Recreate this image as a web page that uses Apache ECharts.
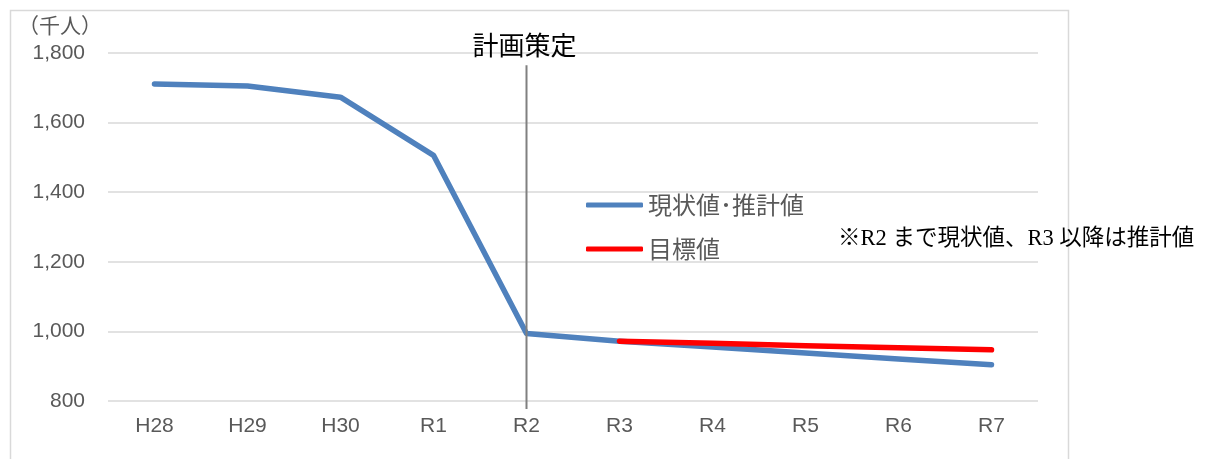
<!DOCTYPE html>
<html>
<head>
<meta charset="utf-8">
<script src="https://cdn.jsdelivr.net/npm/echarts@6/dist/echarts.min.js"></script>
<style>
  html, body { margin: 0; padding: 0; background: #fff; }
  #chart { width: 1214px; height: 459px; }
</style>
</head>
<body>
<div id="chart"></div>
<script>
// Fiscal years (Heisei / Reiwa)
const years = ['H28', 'H29', 'H30', 'R1', 'R2', 'R3', 'R4', 'R5', 'R6', 'R7'];
// Actual values up to R2, projections afterwards (thousand people)
const actualAndProjected = [1711, 1705, 1673, 1506, 994, 972, 955, 938, 921, 904];
// Target values from R3
const targetValues = [null, null, null, null, null, 972, 966, 959, 953, 947];
const yTicks = { min: 800, max: 1800, step: 200 };
// Year the plan was drawn up, and the value range its marker line spans
const planYear = 'R2';
const planMarker = [[planYear, 1765, 800]];

const chart = echarts.init(document.getElementById('chart'), null, { renderer: 'canvas' });

const sans = '"Liberation Sans", "Noto Sans CJK JP", sans-serif';
const cjk = '"Noto Sans CJK JP", sans-serif';

chart.setOption({
  animation: false,
  backgroundColor: '#fff',
  grid: { left: 108, right: 176, top: 53, bottom: 58 },
  xAxis: {
    type: 'category',
    data: years,
    boundaryGap: true,
    axisLine: { show: false },
    axisTick: { show: false },
    axisLabel: { color: '#595959', fontSize: 21, fontFamily: sans, margin: 15 }
  },
  yAxis: {
    type: 'value',
    min: yTicks.min,
    max: yTicks.max,
    interval: yTicks.step,
    axisLine: { show: false },
    axisTick: { show: false },
    axisLabel: {
      color: '#595959', fontSize: 21, fontFamily: sans, margin: 23,
      formatter: v => v.toLocaleString('en-US')
    },
    splitLine: { lineStyle: { color: '#d9d9d9', width: 1.5 } }
  },
  legend: {
    orient: 'vertical',
    left: 586,
    top: 193,
    padding: 0,
    itemWidth: 57,
    itemHeight: 5,
    itemGap: 20,
    icon: 'roundRect',
    textStyle: { color: '#595959', fontSize: 24, lineHeight: 23, fontFamily: cjk },
    data: ['現状値･推計値', '目標値']
  },
  series: [
    {
      name: '現状値･推計値',
      type: 'line',
      data: actualAndProjected,
      symbol: 'none',
      lineStyle: { color: '#4f81bd', width: 5.5, cap: 'round', join: 'round' },
      itemStyle: { color: '#4f81bd' },
      z: 2
    },
    {
      name: '目標値',
      type: 'line',
      data: targetValues,
      symbol: 'none',
      connectNulls: false,
      lineStyle: { color: '#ff0000', width: 5.5, cap: 'round', join: 'round' },
      itemStyle: { color: '#ff0000' },
      z: 3
    },
    {
      // Vertical marker for the year the plan was drawn up
      name: '計画策定',
      type: 'custom',
      clip: false,
      silent: true,
      z: 4,
      data: planMarker,
      renderItem: function (params, api) {
        const top = api.coord([api.value(0), api.value(1)]);
        const bottom = api.coord([api.value(0), api.value(2)]);
        return {
          type: 'group',
          children: [
            {
              type: 'line',
              shape: { x1: top[0], y1: top[1], x2: bottom[0], y2: bottom[1] + 8 },
              style: { stroke: '#808080', lineWidth: 2 }
            },
            {
              type: 'text',
              x: top[0] - 2,
              y: top[1] - 20,
              style: {
                text: '計画策定',
                fill: '#000',
                font: '26px "Noto Sans CJK JP", sans-serif',
                align: 'center',
                verticalAlign: 'middle'
              }
            }
          ]
        };
      }
    }
  ],
  graphic: [
    {
      type: 'rect',
      left: 8, top: 8,
      shape: { width: 1058, height: 470 },
      style: { fill: 'none', stroke: '#d9d9d9', lineWidth: 1.5 },
      silent: true
    },
    {
      type: 'text',
      left: 18, top: 15,
      style: { text: '（千人）', fill: '#595959', font: '21px "Noto Sans CJK JP", sans-serif' }
    },
    {
      type: 'text',
      x: 838, y: 239,
      style: {
        text: '※R2 まで現状値、R3 以降は推計値',
        fill: '#000',
        font: '22.5px "Liberation Serif", "Noto Sans CJK JP", serif',
        verticalAlign: 'middle'
      }
    }
  ]
});
</script>
</body>
</html>
